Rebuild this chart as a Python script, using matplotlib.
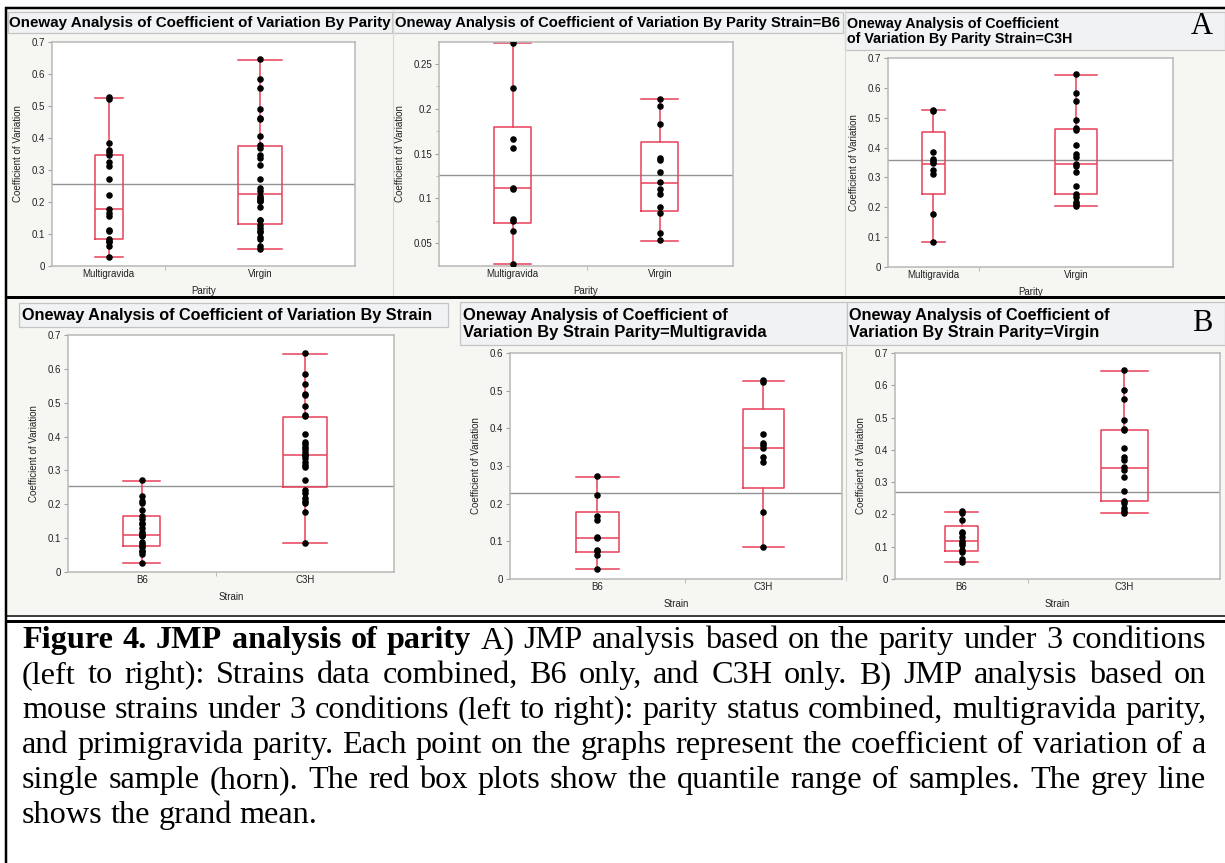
import numpy as np
import matplotlib
matplotlib.use("Agg")
import matplotlib.pyplot as plt
from matplotlib.patches import Rectangle

# ---------------- data ----------------
b6_multi = [0.273, 0.223, 0.166, 0.156, 0.112, 0.110, 0.077, 0.075, 0.063, 0.027]
b6_virgin = [0.211, 0.203, 0.183, 0.145, 0.143, 0.129, 0.118, 0.110, 0.105, 0.090,
             0.083, 0.061, 0.053]
c3h_multi = [0.527, 0.522, 0.385, 0.362, 0.355, 0.347, 0.325, 0.311, 0.178, 0.085]
c3h_virgin = [0.646, 0.584, 0.556, 0.491, 0.464, 0.460, 0.407, 0.377, 0.368, 0.346,
              0.338, 0.317, 0.272, 0.243, 0.234, 0.219, 0.210, 0.204]

parity_cats = ["Multigravida", "Virgin"]
strain_cats = ["B6", "C3H"]

# box stats: [whisker low, q1, median, q3, whisker high]
box_parity_all = [[0.027, 0.085, 0.178, 0.347, 0.526], [0.052, 0.130, 0.224, 0.374, 0.644]]
box_parity_b6 = [[0.027, 0.072, 0.111, 0.180, 0.273], [0.052, 0.086, 0.117, 0.163, 0.211]]
box_parity_c3h = [[0.085, 0.245, 0.346, 0.451, 0.525], [0.204, 0.243, 0.346, 0.463, 0.644]]
box_strain_all = [[0.026, 0.076, 0.110, 0.165, 0.270], [0.085, 0.251, 0.346, 0.459, 0.645]]
box_strain_multi = [[0.027, 0.073, 0.109, 0.179, 0.272], [0.084, 0.242, 0.347, 0.451, 0.525]]
box_strain_virgin = [[0.053, 0.087, 0.119, 0.163, 0.209], [0.203, 0.241, 0.345, 0.462, 0.644]]

grand_means = [0.255, 0.126, 0.359, 0.254, 0.227, 0.271]

yticks_07 = [0, 0.1, 0.2, 0.3, 0.4, 0.5, 0.6, 0.7]
yticklabels_07 = ["0", "0.1", "0.2", "0.3", "0.4", "0.5", "0.6", "0.7"]
yticks_06 = [0, 0.1, 0.2, 0.3, 0.4, 0.5, 0.6]
yticklabels_06 = ["0", "0.1", "0.2", "0.3", "0.4", "0.5", "0.6"]
yticks_b6 = [0.05, 0.1, 0.15, 0.2, 0.25]
yticklabels_b6 = ["0.05", "0.1", "0.15", "0.2", "0.25"]

titles = [
    "Oneway Analysis of Coefficient of Variation By Parity",
    "Oneway Analysis of Coefficient of Variation By Parity Strain=B6",
    "Oneway Analysis of Coefficient\nof Variation By Parity Strain=C3H",
    "Oneway Analysis of Coefficient of Variation By Strain",
    "Oneway Analysis of Coefficient of\nVariation By Strain Parity=Multigravida",
    "Oneway Analysis of Coefficient of\nVariation By Strain Parity=Virgin",
]
ylabel_text = "Coefficient of Variation"

caption_lines = [
    [("Figure 4. JMP analysis of parity", True),
     ("A) JMP analysis based on the parity under 3 conditions", False)],
    [("(left to right): Strains data combined, B6 only, and C3H only. B) JMP analysis based on", False)],
    [("mouse strains under 3 conditions (left to right): parity status combined, multigravida parity,", False)],
    [("and primigravida parity. Each point on the graphs represent the coefficient of variation of a", False)],
    [("single sample (horn). The red box plots show the quantile range of samples. The grey line", False)],
    [("shows the grand mean.", False)],
]

# ---------------- layout ----------------
W, H = 1225, 863
fig = plt.figure(figsize=(W / 100, H / 100), dpi=100)
fig.patch.set_facecolor("white")


def fr(x0, y0, x1, y1):
    return [x0 / W, 1 - y1 / H, (x1 - x0) / W, (y1 - y0) / H]


SANS = ["Liberation Sans", "DejaVu Sans"]
SERIF = ["Liberation Serif", "DejaVu Serif"]
RED = "#e8405a"
PANEL_BG = "#f6f6f2"

bg = fig.add_axes([0, 0, 1, 1], zorder=-10)
bg.set_xlim(0, W)
bg.set_ylim(H, 0)
bg.axis("off")
bg.add_patch(Rectangle((7, 10), W - 7, 286, color=PANEL_BG, lw=0))
bg.add_patch(Rectangle((7, 299), W - 7, 316, color=PANEL_BG, lw=0))
for x in [392.5, 844.5]:
    bg.plot([x, x], [10, 296], color="#d8d8d4", lw=0.8)
bg.plot([846, 846], [345, 580], color="#d0d0cc", lw=0.8)

fg = fig.add_axes([0, 0, 1, 1], zorder=10)
fg.set_xlim(0, W)
fg.set_ylim(H, 0)
fg.axis("off")
fg.patch.set_alpha(0)
px = 0.72
fg.plot([5, W], [8.5, 8.5], color="black", lw=2.5 * px, solid_capstyle="butt")
fg.plot([6, 6], [7, H], color="black", lw=2.5 * px, solid_capstyle="butt")
fg.plot([5, W], [297.5, 297.5], color="black", lw=3 * px, solid_capstyle="butt")
fg.plot([5, W], [616, 616], color="black", lw=1.5 * px, solid_capstyle="butt")
fg.plot([5, W], [621, 621], color="black", lw=3 * px, solid_capstyle="butt")
fg.text(1202, 26, "A", fontsize=22, family=SERIF, ha="center", va="center")
fg.text(1202, 323, "B", fontsize=22, family=SERIF, ha="center", va="center")

renderer = fig.canvas.get_renderer()


def text_width(s, fs, family, weight="normal"):
    t = fig.text(0, 0, s, fontsize=fs, family=family, weight=weight)
    w = t.get_window_extent(renderer).width
    t.remove()
    return w


panels = [
    dict(ax=(52, 42, 355, 266), tb=(8, 12, 392, 33), tx=9, tw=382,
         groups=[b6_multi + c3h_multi, b6_virgin + c3h_virgin], box=box_parity_all,
         cats=parity_cats, xlabel="Parity", ylim=(0, 0.7), yt=(yticks_07, yticklabels_07),
         div=0.374, bw=(28, 44), minor=False),
    dict(ax=(439, 42, 733, 266), tb=(393, 12, 843, 33), tx=395, tw=445,
         groups=[b6_multi, b6_virgin], box=box_parity_b6,
         cats=parity_cats, xlabel="Parity", ylim=(0.0243, 0.2746), yt=(yticks_b6, yticklabels_b6),
         div=0.502, bw=(37, 37), minor=True),
    dict(ax=(888, 58, 1173, 267), tb=(845, 12, W, 50), tx=847, tw=225,
         groups=[c3h_multi, c3h_virgin], box=box_parity_c3h,
         cats=parity_cats, xlabel="Parity", ylim=(0, 0.7), yt=(yticks_07, yticklabels_07),
         div=0.319, bw=(23, 42), minor=False),
    dict(ax=(68, 335, 394, 572), tb=(19, 303, 448, 327), tx=22, tw=411,
         groups=[b6_multi + b6_virgin, c3h_multi + c3h_virgin], box=box_strain_all,
         cats=strain_cats, xlabel="Strain", ylim=(0, 0.7), yt=(yticks_07, yticklabels_07),
         div=0.453, bw=(37, 44), minor=False),
    dict(ax=(510, 353, 842, 579), tb=(460, 302, 847, 345), tx=463, tw=305,
         groups=[b6_multi, c3h_multi], box=box_strain_multi,
         cats=strain_cats, xlabel="Strain", ylim=(0, 0.6), yt=(yticks_06, yticklabels_06),
         div=0.527, bw=(43, 41), minor=False),
    dict(ax=(895, 353, 1220, 579), tb=(847, 302, W, 345), tx=849, tw=262,
         groups=[b6_virgin, c3h_virgin], box=box_strain_virgin,
         cats=strain_cats, xlabel="Strain", ylim=(0, 0.7), yt=(yticks_07, yticklabels_07),
         div=0.41, bw=(33, 47), minor=False),
]

for i, p in enumerate(panels):
    # title bar
    x0, y0, x1, y1 = p["tb"]
    bg.add_patch(Rectangle((x0, y0), x1 - x0, y1 - y0, facecolor="#f1f2f4",
                           edgecolor="#c4c4c4", lw=0.9))
    widest = max(titles[i].split("\n"), key=lambda s: text_width(s, 10, SANS, "bold"))
    fs = 10 * p["tw"] / text_width(widest, 10, SANS, "bold")
    fg.text(p["tx"], (y0 + y1) / 2 + 0.5, titles[i], fontsize=fs, family=SANS,
            weight="bold", ha="left", va="center", linespacing=1.1)

    ax = fig.add_axes(fr(*p["ax"]))
    axw = p["ax"][2] - p["ax"][0]
    ax.set_facecolor("white")
    for s in ax.spines.values():
        s.set_color("#b8b8b8")
        s.set_linewidth(1.1)
    ax.set_xlim(0, 1)
    ax.set_ylim(*p["ylim"])
    d = p["div"]
    centers = [d / 2, (1 + d) / 2]
    stats = []
    for b in p["box"]:
        stats.append(dict(whislo=b[0], q1=b[1], med=b[2], q3=b[3], whishi=b[4], fliers=[]))
    widths = [w / axw for w in p["bw"]]
    ax.bxp(stats, positions=centers, widths=widths, capwidths=widths, showfliers=False,
           manage_ticks=False,
           boxprops=dict(color=RED, lw=1.1),
           whiskerprops=dict(color=RED, lw=1.1),
           capprops=dict(color=RED, lw=1.1),
           medianprops=dict(color=RED, lw=1.1))
    ax.axhline(grand_means[i], color="#929292", lw=1.0, zorder=1.5)
    for c, g in zip(centers, p["groups"]):
        ax.plot(np.full(len(g), c), g, "o", color="black", ms=3.7, zorder=3)

    ax.set_yticks(p["yt"][0])
    ax.set_yticklabels(p["yt"][1])
    if p["minor"]:
        ax.set_yticks([0.075, 0.125, 0.175, 0.225], minor=True)
    ax.set_xticks(centers)
    ax.set_xticklabels(p["cats"])
    ax.set_xticks([d], minor=True)
    ax.tick_params(axis="x", which="major", length=0, pad=2, labelsize=7, labelcolor="#222222")
    ax.tick_params(axis="x", which="minor", length=3, color="#b0b0b0")
    ax.tick_params(axis="y", which="major", length=3, color="#a0a0a0", pad=2,
                   labelsize=7, labelcolor="#222222")
    ax.tick_params(axis="y", which="minor", length=2, color="#b0b0b0")
    for lab in ax.get_xticklabels() + ax.get_yticklabels():
        lab.set_family(SANS)
    ax.set_xlabel(p["xlabel"], fontsize=7, family=SANS, color="#222222", labelpad=5)
    ax.set_ylabel(ylabel_text, fontsize=7, family=SANS, color="#222222", labelpad=6)

# ---------------- caption (justified) ----------------
left, right = 22, 1206
baselines = [648, 683, 718, 753, 788, 823]


def split_words(segs):
    out = []
    for s, bold in segs:
        for w in s.split(" "):
            out.append((w, bold))
    return out


# font size: largest size at which every justified line still fits with normal spaces
ref_fs = 10
sp10 = text_width("a a", ref_fs, SERIF) - text_width("aa", ref_fs, SERIF)
natural = []
for segs in caption_lines[:-1]:
    ws = split_words(segs)
    tot = sum(text_width(w, ref_fs, SERIF, "bold" if b else "normal") for w, b in ws)
    natural.append(tot + sp10 * (len(ws) - 1))
CFS = ref_fs * (right - left) / max(natural) * 0.995

space_w = text_width("a a", CFS, SERIF) - text_width("aa", CFS, SERIF)
for li, (segs, yb) in enumerate(zip(caption_lines, baselines)):
    words = split_words(segs)
    widths = [text_width(w, CFS, SERIF, "bold" if b else "normal") for w, b in words]
    last = li == len(caption_lines) - 1
    if last:
        gap = space_w
    else:
        gap = (right - left - sum(widths)) / (len(words) - 1)
    x = left
    for (w, b), ww in zip(words, widths):
        fg.text(x, yb, w, fontsize=CFS, family=SERIF, weight="bold" if b else "normal",
                ha="left", va="baseline")
        x += ww + gap

fig.savefig("out.png", dpi=100, facecolor="white")
